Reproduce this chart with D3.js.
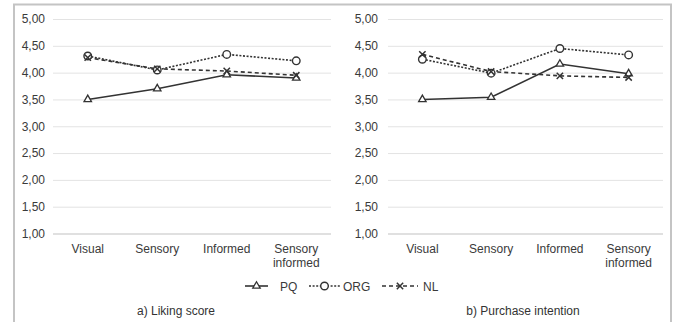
<!DOCTYPE html>
<html>
<head>
<meta charset="utf-8">
<script src="https://cdn.jsdelivr.net/npm/d3@7"></script>
<style>
  body { margin: 0; background: #fff; }
  svg { display: block; font-family: "Liberation Sans", Arial, sans-serif; }
</style>
</head>
<body>
<svg id="chart"></svg>
<script>
'use strict';

const categories = ["Visual", "Sensory", "Informed", "Sensory informed"];
const yTicks = [1, 1.5, 2, 2.5, 3, 3.5, 4, 4.5, 5];
const seriesNames = ["PQ", "ORG", "NL"];

// a) Liking score
const likingPQ  = [3.50, 3.70, 3.96, 3.90];
const likingORG = [4.31, 4.05, 4.34, 4.22];
const likingNL  = [4.28, 4.07, 4.03, 3.95];

// b) Purchase intention
const purchasePQ  = [3.50, 3.54, 4.16, 3.98];
const purchaseORG = [4.25, 3.99, 4.45, 4.33];
const purchaseNL  = [4.34, 4.02, 3.94, 3.91];

const panelTitles = ["a) Liking score", "b) Purchase intention"];

const width = 675, height = 322;
const svg = d3.select("#chart").attr("width", width).attr("height", height);

// outer frame
svg.append("rect")
  .attr("x", 14).attr("y", 4.5)
  .attr("width", 657).attr("height", 330)
  .attr("fill", "none")
  .attr("stroke", "#c4c4c4")
  .attr("stroke-width", 2);

const y = d3.scaleLinear().domain([1, 5]).range([233.5, 19]);

const styles = {
  PQ:  { dash: null, width: 1.6 },
  ORG: { dash: "2,1.6", width: 1.6 },
  NL:  { dash: "4,3", width: 1.6 }
};
const ink = "#333";

function marker(sel, name, cx, cy) {
  if (name === "PQ") {
    sel.append("path")
      .attr("d", d3.symbol(d3.symbolTriangle, 24)())
      .attr("transform", `translate(${cx},${cy})`)
      .attr("fill", "#fff").attr("stroke", ink).attr("stroke-width", 1.3);
  } else if (name === "ORG") {
    sel.append("circle")
      .attr("cx", cx).attr("cy", cy).attr("r", 3.8)
      .attr("fill", "#fff").attr("stroke", ink).attr("stroke-width", 1.4);
  } else {
    sel.append("path")
      .attr("d", d3.symbol(d3.symbolX, 28)())
      .attr("transform", `translate(${cx},${cy})`)
      .attr("fill", "none").attr("stroke", ink).attr("stroke-width", 1.5);
  }
}

function drawPanel(x0, x1, labelX, series, title, titleX) {
  const x = d3.scaleBand().domain(categories).range([x0, x1]).padding(0);
  const g = svg.append("g");

  // gridlines + tick labels
  const yAxis = d3.axisLeft(y).tickValues(yTicks).tickSize(-(x1 - x0))
    .tickFormat(d => d3.format(".2f")(d).replace(".", ","));
  const ax = g.append("g").attr("transform", `translate(${x0},0)`).call(yAxis);
  ax.select(".domain").remove();
  ax.selectAll(".tick line").attr("stroke", "#e3e3e3").attr("stroke-width", 1);
  ax.selectAll(".tick line").filter(d => d === 1).attr("stroke", "#d6d6d6").attr("stroke-width", 1.4);
  ax.selectAll(".tick text")
    .attr("x", labelX - x0)
    .attr("fill", "#3a3a3a")
    .style("font-size", "12px")
    .style("font-family", "'Liberation Sans', Arial, sans-serif");

  // category labels
  categories.forEach(c => {
    const words = c === "Sensory informed" ? ["Sensory", "informed"] : [c];
    const t = g.append("text")
      .attr("x", x(c) + x.bandwidth() / 2)
      .attr("y", 253)
      .attr("text-anchor", "middle")
      .attr("fill", "#3a3a3a")
      .style("font-size", "12px");
    words.forEach((w, i) => {
      t.append("tspan").attr("x", x(c) + x.bandwidth() / 2).attr("dy", i === 0 ? 0 : 13.5).text(w);
    });
  });

  // series
  const line = d3.line()
    .x((d, i) => x(categories[i]) + x.bandwidth() / 2)
    .y(d => y(d));

  seriesNames.forEach((name, k) => {
    g.append("path")
      .datum(series[k])
      .attr("d", line)
      .attr("fill", "none")
      .attr("stroke", ink)
      .attr("stroke-width", styles[name].width)
      .attr("stroke-dasharray", styles[name].dash);
  });
  seriesNames.forEach((name, k) => {
    series[k].forEach((v, i) => marker(g, name, x(categories[i]) + x.bandwidth() / 2, y(v)));
  });

  g.append("text")
    .attr("x", titleX).attr("y", 315)
    .attr("text-anchor", "middle")
    .attr("fill", "#333")
    .style("font-size", "12px")
    .text(title);
}

drawPanel(53, 331, 45, [likingPQ, likingORG, likingNL], panelTitles[0], 176);
drawPanel(388, 663, 378, [purchasePQ, purchaseORG, purchaseNL], panelTitles[1], 523);

// legend
const legend = svg.append("g");
const ly = 286;
const legendItems = [
  { name: "PQ", x1: 245, x2: 268, tx: 280 },
  { name: "ORG", x1: 309, x2: 340, tx: 343 },
  { name: "NL", x1: 382, x2: 418, tx: 423 }
];
legendItems.forEach(it => {
  legend.append("line")
    .attr("x1", it.x1).attr("x2", it.x2).attr("y1", ly).attr("y2", ly)
    .attr("stroke", ink)
    .attr("stroke-width", styles[it.name].width)
    .attr("stroke-dasharray", styles[it.name].dash);
  marker(legend, it.name, (it.x1 + it.x2) / 2, ly);
  legend.append("text")
    .attr("x", it.tx).attr("y", ly + 4.5)
    .attr("fill", "#3a3a3a")
    .style("font-size", "12px")
    .text(it.name);
});
</script>
</body>
</html>
